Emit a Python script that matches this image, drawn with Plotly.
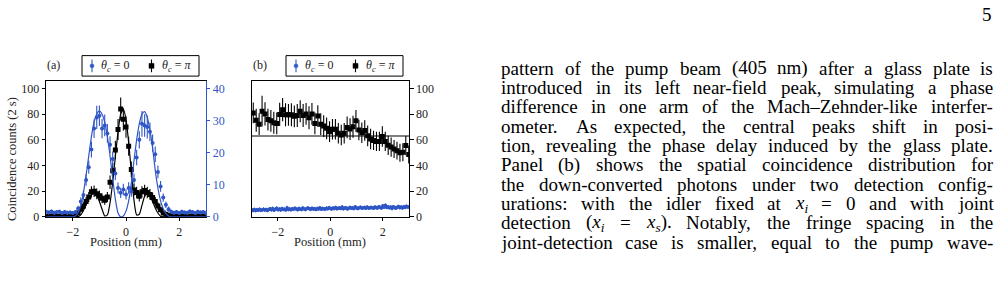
import re
import numpy as np
import plotly.graph_objects as go

W, H = 998, 287
BLUE = "#2f56c6"
SERIF = "Liberation Serif"
INK = "#222222"

# ---------------- data ----------------
x_a = np.round(np.arange(-3.0, 3.0001, 0.1), 1)

blue_a = [1.6, 1.4, 1.7, 1.3, 1.5, 1.6, 1.2, 1.5, 1.3, 1.4, 1.2, 1.5, 2.6, 4.8, 6.8, 11.5,
          15.5, 21.0, 27.5, 31.0, 31.5, 27.5, 28.5, 26.0, 22.5, 18.0, 13.5, 9.0, 7.5, 8.5,
          7.0, 9.0, 8.0, 11.5, 18.5, 24.0, 29.0, 28.5, 28.0, 26.5, 23.0, 19.5, 14.0, 9.5,
          6.0, 3.8, 2.4, 1.6, 1.3, 1.5, 1.2, 1.6, 1.4, 1.3, 1.7, 1.5, 1.2, 1.6, 1.4, 1.5, 1.3]
blue_a_err = [0.6] * 12 + [0.9, 1.2, 1.4, 1.8, 2.1, 2.5, 2.9, 3.6, 3.2, 3.0, 3.4, 2.9, 2.6,
              2.4, 2.0, 1.7, 1.6, 1.8, 1.6, 1.8, 1.7, 2.0, 2.4, 2.7, 4.0, 3.5, 3.6, 2.9,
              2.7, 2.4, 2.0, 1.7, 1.3, 1.0, 0.8] + [0.6] * 14

black_a = [0.5, 0.3, 0.6, 0.4, 0.5, 0.3, 0.6, 0.4, 0.7, 0.5, 1.0, 1.6, 3.0, 6.0, 8.5, 12.0,
           15.5, 19.5, 20.0, 18.0, 16.5, 14.5, 13.0, 15.5, 27.0, 36.0, 52.0, 68.0, 84.0,
           76.0, 70.0, 55.0, 37.0, 21.0, 19.0, 16.0, 19.5, 20.5, 19.0, 17.5, 15.0, 12.0,
           8.5, 5.5, 3.0, 2.0, 1.0, 0.7, 0.5, 0.3, 0.6, 0.4, 0.5, 0.3, 0.6, 0.4, 0.5, 0.3,
           0.6, 0.4, 0.5]
black_a_err = [0.7] * 11 + [1.2, 1.7, 2.4, 2.9, 3.4, 3.9, 4.4, 4.5, 4.2, 4.0, 3.8, 3.6, 3.9,
               5.2, 6.0, 7.2, 8.2, 9.0, 8.7, 8.4, 7.4, 6.1, 4.6, 4.4, 4.0, 4.4, 4.5, 4.4,
               4.2, 3.9, 3.5, 2.9, 2.3, 1.7, 1.4, 1.0] + [0.7] * 14

black_a_fit = [0] * 12 + [0.2, 1.5, 5.0, 9.5, 14.0, 17.0, 18.0, 16.5, 12.0, 6.0, 0.8, 1.5,
               11.0, 27.0, 47.0, 66.0, 80.0, 84.0, 76.0, 58.0, 35.0, 13.0, 1.5, 2.0, 9.0,
               16.0, 18.0, 16.0, 12.0, 7.0, 3.0, 0.5] + [0] * 17
blue_a_fit = [0] * 11 + [0.3, 1.3, 3.5, 7.5, 13.0, 19.0, 25.0, 29.5, 32.0, 33.0, 32.0, 29.5,
              25.0, 19.0, 12.0, 5.5, 1.2, 0.0, 0.3, 1.8, 5.0, 10.5, 17.5, 24.0, 29.0, 32.0,
              32.8, 31.0, 27.0, 21.5, 14.5, 9.0, 5.0, 2.5, 1.0, 0.3] + [0] * 14

x_b_black = np.linspace(-2.94, 2.99, 54)
black_b = [81, 75.3, 72.2, 82.3, 80.2, 75.8, 74.8, 73.3, 72.8, 79.8, 83.5, 79.5, 79.5, 79.5,
           78.3, 79, 82.3, 79, 80.2, 77.2, 80.2, 72.8, 78.5, 72.2, 70.7, 69, 66.4, 68.2,
           68.2, 65.1, 63.8, 65.1, 69.7, 68.4, 70.2, 74.8, 67.7, 65.6, 67.2, 63.1, 60.6,
           59.5, 58.8, 58.8, 62.6, 58.8, 55.7, 54.4, 52.9, 51.6, 49.9, 50.4, 55.5, 48.6]
black_b_err = [8, 9, 8.5, 12, 9, 8.5, 8.5, 8.5, 8.5, 9, 9, 9, 8.5, 9, 8.5, 9, 8.5, 9, 8.5, 9,
               8.5, 8.5, 8.5, 8.5, 8.5, 8.5, 8, 8, 8, 8, 8, 8, 8.5, 8.5, 8.5, 8.5, 8, 8, 8,
               8, 8, 7.5, 7.5, 7.5, 8, 7.5, 7.5, 7.5, 7, 7, 7, 7, 7.5, 7]
level_b = 63.0
level_b_x = [-3.0, 3.0]

x_b_blue = np.round(np.arange(-3.0, 3.0001, 0.05), 2)
blue_b = [5.5, 5.0, 5.8, 4.9, 5.6, 5.2, 5.9, 5.1, 5.4, 6.0, 5.3, 5.7, 5.0, 5.8, 6.3, 5.5,
          6.6, 5.2, 5.9, 6.8, 5.6, 6.1, 5.4, 6.5, 5.8, 6.0, 5.3, 7.2, 5.7, 6.2, 5.5,
          6.4, 5.9, 6.8, 6.1, 5.6, 6.6, 6.0, 5.8, 6.9, 6.2, 5.7, 6.5, 7.0, 6.3, 5.9, 6.7,
          6.1, 6.4, 5.8, 6.6, 6.2, 7.1, 6.0, 6.5, 6.3, 5.9, 6.8, 6.4, 7.2, 6.6,
          6.1, 6.9, 6.5, 7.3, 6.3, 6.8, 7.0, 6.6, 7.6, 6.4, 6.9, 7.1, 6.2, 6.7, 7.4, 6.8,
          7.0, 6.5, 7.8, 6.9, 6.6, 7.2, 7.5, 6.8, 7.1, 7.3, 6.7, 7.6, 7.0, 6.9,
          7.4, 7.1, 6.8, 7.7, 7.2, 7.0, 7.9, 7.3, 6.9, 8.6, 7.5, 9.0, 7.4, 7.8, 7.1, 7.6,
          6.5, 7.9, 7.3, 6.8, 7.5, 8.1, 7.2, 7.7, 7.0, 7.9, 7.4, 8.2, 7.6, 7.8]
blue_b_err = [1.4] * 121

x_ticks = [-2, 0, 2]
y_ticks = [0, 20, 40, 60, 80, 100]
y2_ticks = [0, 10, 20, 30, 40]

legend_labels = ["<i>θ<sub>c</sub></i> = 0", "<i>θ<sub>c</sub></i> = <i>π</i>"]
panel_labels = ["(a)", "(b)"]
y_title = "Coincidence counts (2 s)"
x_title = "Position (mm)"

body_lines = [
    "pattern of the pump beam (405 nm) after a glass plate is",
    "introduced in its left near-field peak, simulating a phase",
    "difference in one arm of the Mach–Zehnder-like interfer-",
    "ometer. As expected, the central peaks shift in posi-",
    "tion, revealing the phase delay induced by the glass plate.",
    "Panel (b) shows the spatial coincidence distribution for",
    "the down-converted photons under two detection config-",
    "urations: with the idler fixed at <i>x<sub>i</sub></i> = 0 and with joint",
    "detection (<i>x<sub>i</sub></i> = <i>x<sub>s</sub></i>). Notably, the fringe spacing in the",
    "joint-detection case is smaller, equal to the pump wave-",
]
page_number = "5"

# ---------------- helpers ----------------
def px(x):
    return x / W

def py(y):
    return 1 - y / H

# Times / Liberation Serif advance widths (1/1000 em) for justifying the text block
TW = {" ": 250, "(": 333, ")": 333, ",": 250, "-": 333, ".": 250, ":": 278, "=": 564, "–": 500,
      "A": 722, "B": 667, "C": 667, "D": 722, "E": 611, "F": 556, "G": 722, "H": 722, "I": 333,
      "J": 389, "K": 722, "L": 611, "M": 889, "N": 722, "O": 722, "P": 556, "Q": 722, "R": 667,
      "S": 556, "T": 611, "U": 722, "V": 722, "W": 944, "X": 722, "Y": 722, "Z": 611,
      "a": 444, "b": 500, "c": 444, "d": 500, "e": 444, "f": 333, "g": 500, "h": 500, "i": 278,
      "j": 278, "k": 500, "l": 278, "m": 778, "n": 500, "o": 500, "p": 500, "q": 500, "r": 333,
      "s": 389, "t": 278, "u": 500, "v": 500, "w": 722, "x": 444, "y": 500, "z": 444}

def text_width(s, fs):
    scale, w = 1.0, 0.0
    for tok in re.split(r"(<[^>]+>)", s):
        if tok.startswith("<"):
            if tok == "<sub>":
                scale = 0.7
            elif tok == "</sub>":
                scale = 1.0
            continue
        for ch in tok:
            w += TW.get(ch, 500) * scale
    return w / 1000.0 * fs

fig = go.Figure()

# panel (a)
fig.add_trace(go.Scatter(x=x_a, y=blue_a_fit, mode="lines", line=dict(color=BLUE, width=1.2, shape="spline", smoothing=0.6),
                         xaxis="x", yaxis="y2", showlegend=False, hoverinfo="skip"))
fig.add_trace(go.Scatter(x=x_a, y=blue_a, mode="markers", marker=dict(color=BLUE, size=4, symbol="circle"),
                         error_y=dict(type="data", array=blue_a_err, thickness=1.1, width=0, color=BLUE),
                         xaxis="x", yaxis="y2", showlegend=False))
fig.add_trace(go.Scatter(x=x_a, y=black_a_fit, mode="lines", line=dict(color="black", width=1.2, shape="spline", smoothing=0.6),
                         xaxis="x", yaxis="y", showlegend=False, hoverinfo="skip"))
fig.add_trace(go.Scatter(x=x_a, y=black_a, mode="markers", marker=dict(color="black", size=5, symbol="square"),
                         error_y=dict(type="data", array=black_a_err, thickness=1.1, width=0, color="black"),
                         xaxis="x", yaxis="y", showlegend=False))

# panel (b)
fig.add_trace(go.Scatter(x=x_b_blue, y=blue_b, mode="markers", marker=dict(color=BLUE, size=3.5, symbol="circle"),
                         error_y=dict(type="data", array=blue_b_err, thickness=1, width=0, color=BLUE),
                         xaxis="x2", yaxis="y3", showlegend=False))
fig.add_trace(go.Scatter(x=level_b_x, y=[level_b, level_b], mode="lines", line=dict(color="black", width=1.2),
                         xaxis="x2", yaxis="y3", showlegend=False, hoverinfo="skip"))
fig.add_trace(go.Scatter(x=x_b_black, y=black_b, mode="markers", marker=dict(color="black", size=5, symbol="square"),
                         error_y=dict(type="data", array=black_b_err, thickness=1.1, width=0, color="black"),
                         xaxis="x2", yaxis="y3", showlegend=False))

TICK_FS = 12
tickfont = dict(family=SERIF, size=TICK_FS, color=INK)
common_x = dict(range=[-3, 3], tickvals=x_ticks, ticks="outside", ticklen=3.5, tickwidth=0.8,
                tickcolor="black", showline=True, linecolor="black", linewidth=1, mirror=True,
                showgrid=False, zeroline=False, tickfont=tickfont)
y_dom = [py(222.3), py(83.3)]
y_top = (222.3 - 83.3) / 1.316

fig.update_layout(
    width=W, height=H, margin=dict(l=0, r=0, t=0, b=0),
    paper_bgcolor="white", plot_bgcolor="white",
    xaxis=dict(domain=[px(46.2), px(205.8)], anchor="y", **common_x),
    yaxis=dict(domain=y_dom, range=[0, y_top], tickvals=y_ticks, ticks="outside", ticklen=3.5, tickwidth=0.8,
               tickcolor="black", showline=True, linecolor="black", linewidth=1, showgrid=False,
               zeroline=False, tickfont=tickfont, anchor="x"),
    yaxis2=dict(overlaying="y", side="right", anchor="x", range=[0, y_top * 0.4], tickvals=y2_ticks,
                ticks="outside", ticklen=3.5, tickwidth=0.8, tickcolor=BLUE, showline=True,
                linecolor=BLUE, linewidth=1.2, showgrid=False, zeroline=False,
                tickfont=dict(family=SERIF, size=TICK_FS, color=BLUE)),
    xaxis2=dict(domain=[px(251.7), px(409.0)], anchor="y3", **common_x),
    yaxis3=dict(domain=y_dom, range=[0, y_top], side="right", anchor="x2", tickvals=y_ticks,
                ticks="outside", ticklen=3.5, tickwidth=0.8, tickcolor="black", showline=True,
                linecolor="black", linewidth=1, mirror=True, showgrid=False, zeroline=False,
                tickfont=tickfont),
    showlegend=False,
)

ann = []
shapes = []

def note(x, y, text, size=12, color=INK, xa="center", ya="middle", angle=0):
    ann.append(dict(x=px(x), y=py(y), xref="paper", yref="paper", text=text, textangle=angle,
                    xanchor=xa, yanchor=ya, showarrow=False, borderpad=0,
                    font=dict(family=SERIF, size=size, color=color)))

# axis titles
note(12, 163, y_title, size=12.5, angle=-90)
for cx in (126, 330):
    note(cx, 248, x_title, size=12.5)

# panel labels and manual legends
for k, off in enumerate((0, 204)):
    note(53.5 + (206.5 if k else 0), 67, panel_labels[k])
    shapes.append(dict(type="rect", xref="paper", yref="paper", x0=px(82 + off), x1=px(199 + off),
                       y0=py(57), y1=py(78), line=dict(color="black", width=1), fillcolor="white"))
    bx = 92 + off
    shapes.append(dict(type="line", xref="paper", yref="paper", x0=px(bx), x1=px(bx), y0=py(61), y1=py(74),
                       line=dict(color=BLUE, width=1.1)))
    shapes.append(dict(type="circle", xref="paper", yref="paper", x0=px(bx - 2), x1=px(bx + 2),
                       y0=py(65.5), y1=py(69.5), line=dict(color=BLUE, width=0.5), fillcolor=BLUE))
    note(100 + off, 67.5, legend_labels[0], xa="left")
    kx = 151.5 + off
    shapes.append(dict(type="line", xref="paper", yref="paper", x0=px(kx), x1=px(kx), y0=py(61), y1=py(74),
                       line=dict(color="black", width=1.1)))
    shapes.append(dict(type="rect", xref="paper", yref="paper", x0=px(kx - 2.5), x1=px(kx + 2.5),
                       y0=py(65), y1=py(70), line=dict(color="black", width=0.5), fillcolor="black"))
    note(161 + off, 67.5, legend_labels[1], xa="left")

# body text, justified word by word between x=500 and x=992
FS = 19
LEFT, RIGHT = 500.0, 992.0
for i, line in enumerate(body_lines):
    words = line.split(" ")
    widths = [text_width(w, FS) for w in words]
    gap = (RIGHT - LEFT - sum(widths)) / (len(words) - 1)
    xpos = LEFT
    yline = 70 + 19.8 * i
    for w, wd in zip(words, widths):
        note(xpos, yline, w, size=FS, color="black", xa="left")
        xpos += wd + gap
note(993, 15, page_number, size=FS, color="black", xa="right")

fig.update_layout(annotations=ann, shapes=shapes)
fig.write_html("out.html")
